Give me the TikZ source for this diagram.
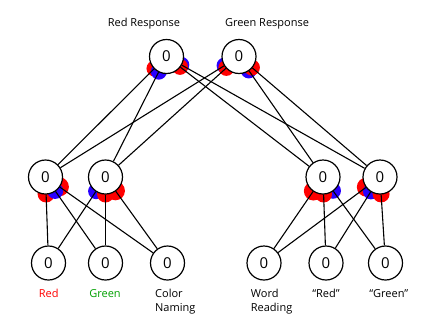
\documentclass[tikz,border=0pt]{standalone}
\usepackage{fontspec}
\setmainfont{Open Sans}
\usetikzlibrary{calc,backgrounds}
\definecolor{posred}{RGB}{255,0,0}
\definecolor{negblue}{RGB}{40,0,255}
\definecolor{labgreen}{RGB}{0,160,0}
\begin{document}
\begin{tikzpicture}[x=1pt,y=-1pt,
  unit/.style={circle,draw=black,line width=1.2pt,fill=white,minimum size=34pt,
    inner sep=0pt,font=\fontsize{15}{15}\selectfont},
  link/.style={line width=1.1pt,draw=black},
  lbl/.style={font=\fontsize{11}{14.3}\selectfont,inner sep=0pt}]
\useasboundingbox (0,0) rectangle (433,335);

% response units
\node[unit] (rr) at (166.5,56.5) {0};
\node[unit] (gr) at (239,56.5) {0};
% hidden units
\node[unit] (h1) at (45.5,177) {0};
\node[unit] (h2) at (105.5,177) {0};
\node[unit] (h3) at (323,177) {0};
\node[unit] (h4) at (380,177) {0};
% input units
\node[unit] (ired)   at (48.5,263) {0};
\node[unit] (igreen) at (105.5,263) {0};
\node[unit] (tcn)    at (167.5,263) {0};
\node[unit] (twr)    at (264,263) {0};
\node[unit] (wred)   at (326,263) {0};
\node[unit] (wgreen) at (385.5,263) {0};

% weight signs at the receiving end of each connection
\begin{scope}[on background layer]
\foreach \a/\b/\c/\r in {
  rr/h1/posred/8, rr/h2/negblue/8, rr/h4/negblue/8, rr/h3/posred/8,
  gr/h1/negblue/8, gr/h2/posred/8, gr/h3/negblue/8, gr/h4/posred/8,
  h1/tcn/posred/9.5, h1/ired/posred/8.5, h1/igreen/negblue/8,
  h2/ired/negblue/8, h2/tcn/posred/9.5, h2/igreen/posred/8.5,
  h3/twr/posred/9.5, h3/wgreen/negblue/8, h3/wred/posred/8.5,
  h4/twr/posred/9.5, h4/wred/negblue/8, h4/wgreen/posred/8.5}
  \fill[\c] ($(\a)!17pt!(\b)$) circle[radius=\r];
\end{scope}

% connections
\foreach \t in {rr,gr}
  \foreach \h in {h1,h2,h3,h4}
    \draw[link] (\t) -- (\h);
\foreach \h in {h1,h2}
  \foreach \i in {ired,igreen,tcn}
    \draw[link] (\h) -- (\i);
\foreach \h in {h3,h4}
  \foreach \i in {twr,wred,wgreen}
    \draw[link] (\h) -- (\i);

% labels
\node[lbl,anchor=base] (lrr) at (144,26.5) {Red Response};
\node[lbl,anchor=base] (lgr) at (267,26.5) {Green Response};
\node[lbl,anchor=base,text=posred] (lred) at (48.7,297.5) {Red};
\node[lbl,anchor=base,text=labgreen] (lgreen) at (105,297.5) {Green};
\node[lbl,anchor=base west,align=left] (lcn) at (155,311.8) {Color\\Naming};
\node[lbl,anchor=base west,align=left] (lwr) at (250.7,311.8) {Word\\Reading};
\node[lbl,anchor=base] (lwred) at (326,297.5) {“Red”};
\node[lbl,anchor=base] (lwgreen) at (388.8,297.5) {“Green”};
\end{tikzpicture}
\end{document}
